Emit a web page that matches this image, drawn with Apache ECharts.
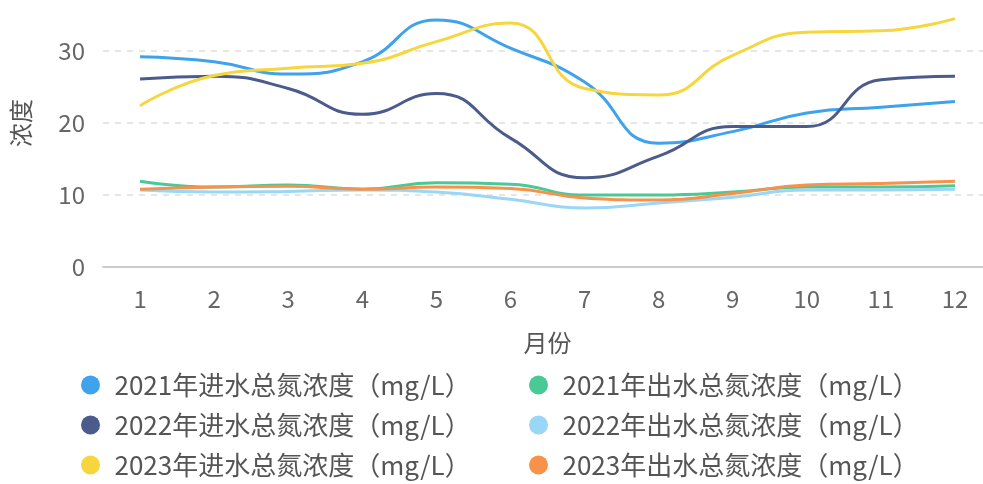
<!DOCTYPE html>
<html>
<head>
<meta charset="utf-8">
<script src="https://cdn.jsdelivr.net/npm/echarts@6/dist/echarts.min.js"></script>
<style>
  html, body { margin: 0; padding: 0; background: #fff; }
  #chart { width: 983px; height: 484px; }
</style>
</head>
<body>
<div id="chart"></div>
<script>
var months = ['1', '2', '3', '4', '5', '6', '7', '8', '9', '10', '11', '12'];

var in2021 = [29.2, 28.5, 26.8, 28.5, 34.3, 30.4, 25.7, 17.2, 18.8, 21.4, 22.2, 23.0];
var in2022 = [26.1, 26.5, 24.8, 21.2, 24.1, 17.9, 12.4, 15.4, 19.5, 19.5, 26.0, 26.5];
var in2023 = [22.4, 26.6, 27.6, 28.3, 31.3, 33.9, 24.8, 23.9, 29.4, 32.6, 32.8, 34.5];
var out2021 = [11.9, 11.1, 11.4, 10.8, 11.7, 11.5, 10.0, 10.0, 10.4, 11.1, 11.1, 11.3];
var out2022 = [10.7, 10.4, 10.5, 10.7, 10.4, 9.4, 8.2, 8.9, 9.7, 10.7, 10.7, 10.8];
var out2023 = [10.8, 11.1, 11.2, 10.8, 11.1, 10.9, 9.6, 9.3, 10.2, 11.4, 11.6, 11.9];

var inNames = ['2021年进水总氮浓度（mg/L）', '2022年进水总氮浓度（mg/L）', '2023年进水总氮浓度（mg/L）'];
var outNames = ['2021年出水总氮浓度（mg/L）', '2022年出水总氮浓度（mg/L）', '2023年出水总氮浓度（mg/L）'];

var colors = {
    in2021: '#3ea2ec',
    in2022: '#4b5b8c',
    in2023: '#f6d63c',
    out2021: '#48c996',
    out2022: '#9ad6f6',
    out2023: '#f8914a'
};

function line(name, data, color) {
    return {
        name: name,
        type: 'line',
        smooth: true,
        showSymbol: false,
        symbol: 'circle',
        data: data,
        itemStyle: { color: color },
        lineStyle: { width: 3, color: color }
    };
}

var legendText = {
    fontSize: 26,
    lineHeight: 28,
    color: '#555',
    fontFamily: 'Noto Sans CJK SC'
};

function legend(names, left) {
    return {
        data: names,
        orient: 'vertical',
        left: left,
        top: 371,
        padding: 0,
        icon: 'circle',
        itemWidth: 38,
        itemHeight: 19,
        itemGap: 12,
        textStyle: legendText
    };
}

var chart = echarts.init(document.getElementById('chart'));
chart.setOption({
    animation: false,
    textStyle: { fontFamily: 'Noto Sans CJK SC' },
    grid: { left: 103, right: -9, top: -21, bottom: 217, outerBoundsMode: 'none', containLabel: false },
    legend: [legend(inNames, 81), legend(outNames, 529)],
    xAxis: {
        type: 'category',
        data: months,
        boundaryGap: true,
        name: '月份',
        nameLocation: 'middle',
        nameGap: 64,
        nameTextStyle: { fontSize: 24, color: '#555' },
        axisLine: { lineStyle: { color: '#ccc', width: 2 } },
        axisTick: { alignWithLabel: true, length: 6, lineStyle: { color: '#ccc' } },
        axisLabel: { fontSize: 24, color: '#666', margin: 20 }
    },
    yAxis: {
        type: 'value',
        min: 0,
        max: 40,
        interval: 10,
        name: '浓度',
        nameLocation: 'middle',
        nameRotate: 90,
        nameGap: 70,
        nameTextStyle: { fontSize: 24, color: '#555' },
        axisLine: { show: false },
        axisTick: { show: false },
        axisLabel: { fontSize: 24, color: '#666', margin: 18 },
        splitLine: { lineStyle: { color: '#e6e6e6', type: [6, 6], width: 2 } }
    },
    series: [
        line(inNames[0], in2021, colors.in2021),
        line(inNames[1], in2022, colors.in2022),
        line(inNames[2], in2023, colors.in2023),
        line(outNames[0], out2021, colors.out2021),
        line(outNames[1], out2022, colors.out2022),
        line(outNames[2], out2023, colors.out2023)
    ]
});
</script>
</body>
</html>
